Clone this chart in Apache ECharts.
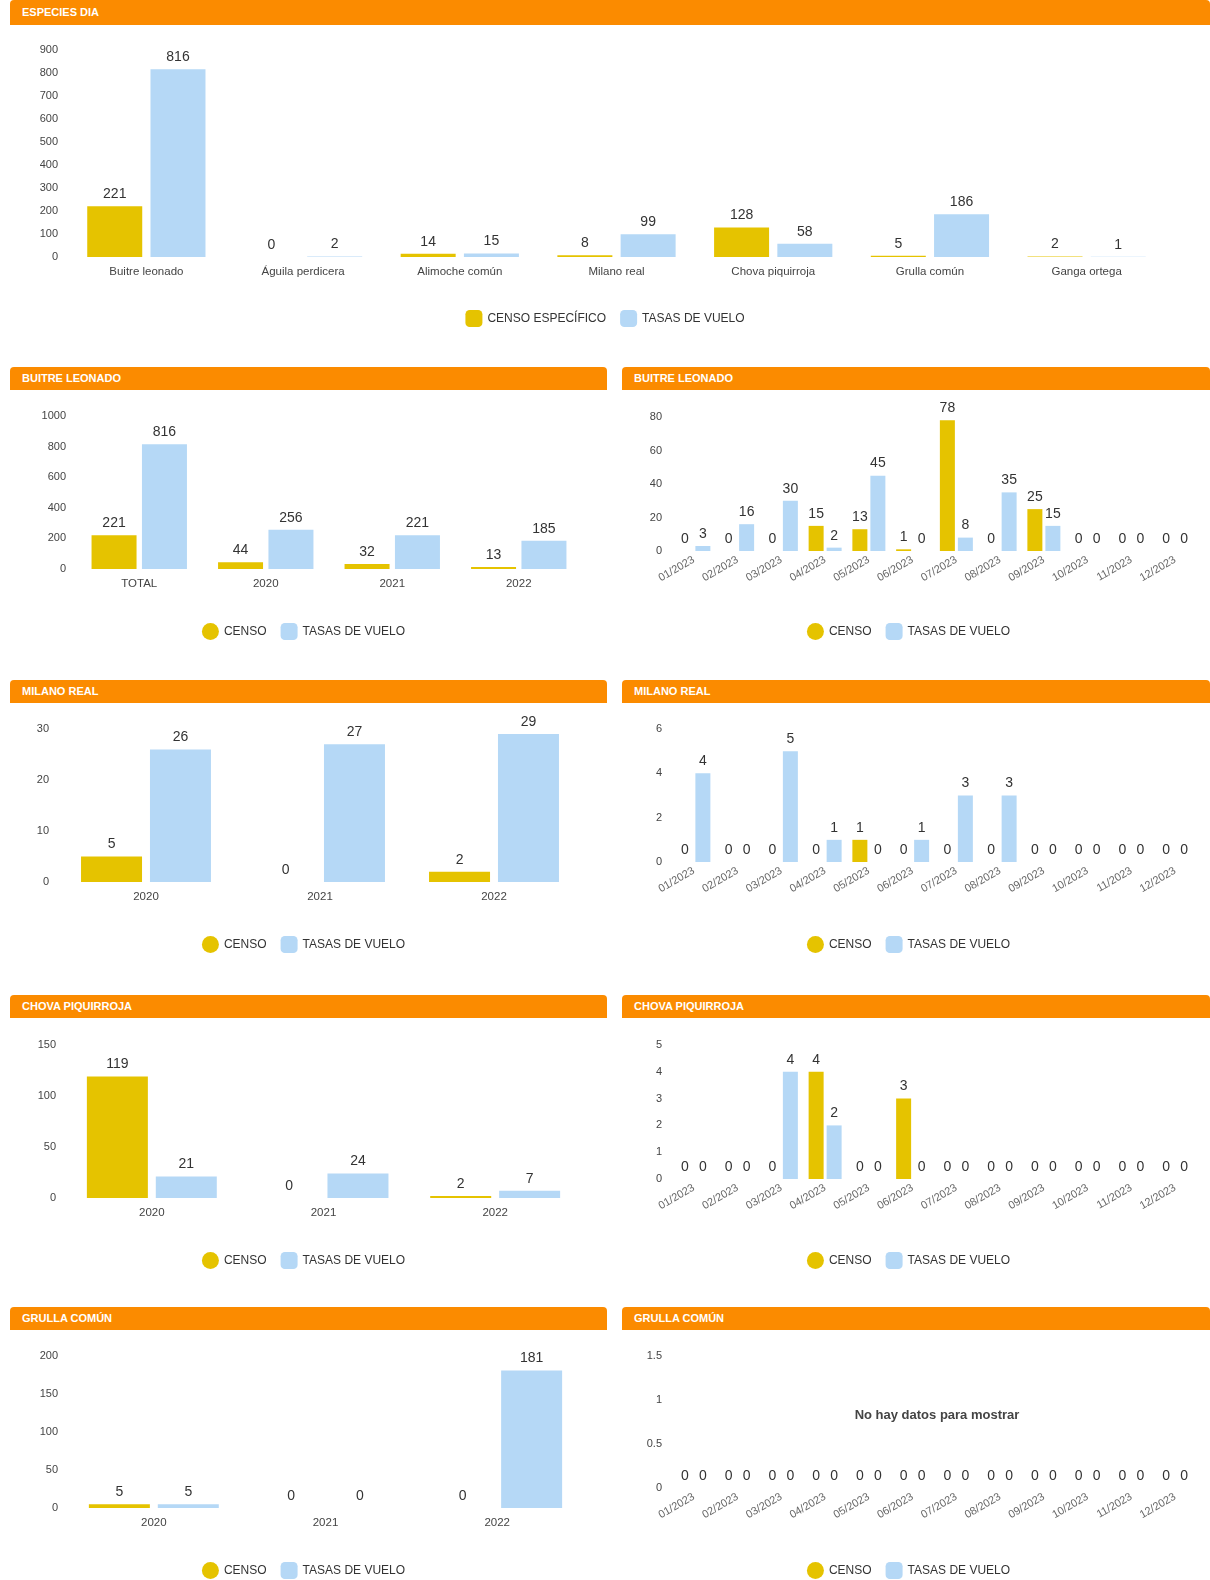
<!DOCTYPE html>
<html>
<head>
<meta charset="utf-8">
<title>Especies</title>
<script src="https://cdn.jsdelivr.net/npm/echarts/dist/echarts.min.js"></script>
<style>
  html, body { margin: 0; padding: 0; background: #fff; }
  body { width: 1210px; height: 1580px; position: relative; overflow: hidden;
         font-family: 'Liberation Sans', Arial, sans-serif; }
  .hdr { position: absolute; height: 23px; background: #fb8b00; color: #fff;
         font-weight: bold; font-size: 11px; line-height: 23px; padding-left: 12px;
         box-sizing: border-box; border-radius: 4px 4px 0 0; z-index: 2; }
  .chart { position: absolute; }
</style>
</head>
<body>

<div class="hdr" style="left:10px;top:0;width:1200px;height:25px;line-height:25px;">ESPECIES DIA</div>
<div class="chart" id="c0" style="left:0;top:0;width:1210px;height:345px;"></div>

<div class="hdr" style="left:10px;top:367px;width:597px;">BUITRE LEONADO</div>
<div class="hdr" style="left:622px;top:367px;width:588px;">BUITRE LEONADO</div>
<div class="chart" id="c1" style="left:0;top:390px;width:607px;height:265px;"></div>
<div class="chart" id="c2" style="left:607px;top:390px;width:603px;height:265px;"></div>

<div class="hdr" style="left:10px;top:680px;width:597px;">MILANO REAL</div>
<div class="hdr" style="left:622px;top:680px;width:588px;">MILANO REAL</div>
<div class="chart" id="c3" style="left:0;top:702px;width:607px;height:265px;"></div>
<div class="chart" id="c4" style="left:607px;top:702px;width:603px;height:265px;"></div>

<div class="hdr" style="left:10px;top:995px;width:597px;">CHOVA PIQUIRROJA</div>
<div class="hdr" style="left:622px;top:995px;width:588px;">CHOVA PIQUIRROJA</div>
<div class="chart" id="c5" style="left:0;top:1018px;width:607px;height:265px;"></div>
<div class="chart" id="c6" style="left:607px;top:1018px;width:603px;height:265px;"></div>

<div class="hdr" style="left:10px;top:1307px;width:597px;">GRULLA COMÚN</div>
<div class="hdr" style="left:622px;top:1307px;width:588px;">GRULLA COMÚN</div>
<div class="chart" id="c7" style="left:0;top:1330px;width:607px;height:250px;"></div>
<div class="chart" id="c8" style="left:607px;top:1330px;width:603px;height:250px;"></div>

<script>
// ---- data ----
const speciesNames = ['Buitre leonado', 'Águila perdicera', 'Alimoche común', 'Milano real', 'Chova piquirroja', 'Grulla común', 'Ganga ortega'];
const speciesCenso = [221, 0, 14, 8, 128, 5, 2];
const speciesTasas = [816, 2, 15, 99, 58, 186, 1];

const months = ['01/2023', '02/2023', '03/2023', '04/2023', '05/2023', '06/2023',
                '07/2023', '08/2023', '09/2023', '10/2023', '11/2023', '12/2023'];
const yearsWithTotal = ['TOTAL', '2020', '2021', '2022'];
const years = ['2020', '2021', '2022'];

const buitreYearCenso = [221, 44, 32, 13];
const buitreYearTasas = [816, 256, 221, 185];
const buitreMonthCenso = [0, 0, 0, 15, 13, 1, 78, 0, 25, 0, 0, 0];
const buitreMonthTasas = [3, 16, 30, 2, 45, 0, 8, 35, 15, 0, 0, 0];

const milanoYearCenso = [5, 0, 2];
const milanoYearTasas = [26, 27, 29];
const milanoMonthCenso = [0, 0, 0, 0, 1, 0, 0, 0, 0, 0, 0, 0];
const milanoMonthTasas = [4, 0, 5, 1, 0, 1, 3, 3, 0, 0, 0, 0];

const chovaYearCenso = [119, 0, 2];
const chovaYearTasas = [21, 24, 7];
const chovaMonthCenso = [0, 0, 0, 4, 0, 3, 0, 0, 0, 0, 0, 0];
const chovaMonthTasas = [0, 0, 4, 2, 0, 0, 0, 0, 0, 0, 0, 0];

const grullaYearCenso = [5, 0, 0];
const grullaYearTasas = [5, 0, 181];
const grullaMonthCenso = [0, 0, 0, 0, 0, 0, 0, 0, 0, 0, 0, 0];
const grullaMonthTasas = [0, 0, 0, 0, 0, 0, 0, 0, 0, 0, 0, 0];

// ---- styling ----
const FONT = "'Liberation Sans', Arial, sans-serif";
const YELLOW = '#e5c300';
const BLUE = '#b5d8f6';

function makeChart(id, o) {
  const chart = echarts.init(document.getElementById(id), null, { renderer: 'canvas' });
  const valueLabel = { show: true, position: 'top', distance: 5, color: '#333', fontSize: 14, fontFamily: FONT };
  const rotated = !!o.rotate;
  chart.setOption({
    animation: false,
    textStyle: { fontFamily: FONT },
    grid: Object.assign({ containLabel: false, outerBoundsMode: 'none' }, o.grid),
    legend: {
      data: [
        { name: o.names[0], icon: o.firstIcon || 'circle' },
        { name: o.names[1], icon: 'roundRect' }
      ],
      top: o.legendTop, left: 'center',
      itemWidth: 17, itemHeight: 17, itemGap: 14,
      textStyle: { fontSize: 12, color: '#333', fontFamily: FONT }
    },
    xAxis: {
      type: 'category', data: o.categories,
      axisLine: { show: false }, axisTick: { show: false },
      axisLabel: {
        interval: 0, rotate: o.rotate || 0, margin: rotated ? 8 : 9,
        fontSize: rotated ? 11 : 11.5, color: rotated ? '#666' : '#444', fontFamily: FONT
      }
    },
    yAxis: {
      type: 'value', min: 0, max: o.max, interval: o.step,
      axisLine: { show: false }, axisTick: { show: false }, splitLine: { show: false },
      axisLabel: { margin: 10, fontSize: 11, color: '#444', fontFamily: FONT,
                   formatter: function (v) { return String(v); } }
    },
    series: [
      { name: o.names[0], type: 'bar', data: o.a, itemStyle: { color: YELLOW },
        barWidth: o.barWidth, barGap: o.barGap, label: valueLabel },
      { name: o.names[1], type: 'bar', data: o.b, itemStyle: { color: BLUE },
        barWidth: o.barWidth, barGap: o.barGap, label: valueLabel }
    ],
    graphic: o.graphic || []
  });
}

const yearNames = ['CENSO', 'TASAS DE VUELO'];

makeChart('c0', {
  categories: speciesNames, a: speciesCenso, b: speciesTasas,
  names: ['CENSO ESPECÍFICO', 'TASAS DE VUELO'], firstIcon: 'roundRect',
  max: 900, step: 100,
  grid: { left: 68, top: 50, width: 1097, height: 207 },
  legendTop: 305, barWidth: 55, barGap: '15%'
});

makeChart('c1', {
  categories: yearsWithTotal, a: buitreYearCenso, b: buitreYearTasas, names: yearNames,
  max: 1000, step: 200,
  grid: { left: 76, top: 26, width: 506, height: 153 },
  legendTop: 228, barWidth: 45, barGap: '12%'
});

makeChart('c2', {
  categories: months, a: buitreMonthCenso, b: buitreMonthTasas, names: yearNames,
  max: 80, step: 20, rotate: 30,
  grid: { left: 65, top: 27, width: 525, height: 134 },
  legendTop: 228, barWidth: 15, barGap: '20%'
});

makeChart('c3', {
  categories: years, a: milanoYearCenso, b: milanoYearTasas, names: yearNames,
  max: 30, step: 10,
  grid: { left: 59, top: 27, width: 522, height: 153 },
  legendTop: 229, barWidth: 61, barGap: '13%'
});

makeChart('c4', {
  categories: months, a: milanoMonthCenso, b: milanoMonthTasas, names: yearNames,
  max: 6, step: 2, rotate: 30,
  grid: { left: 65, top: 27, width: 525, height: 133 },
  legendTop: 229, barWidth: 15, barGap: '20%'
});

makeChart('c5', {
  categories: years, a: chovaYearCenso, b: chovaYearTasas, names: yearNames,
  max: 150, step: 50,
  grid: { left: 66, top: 27, width: 515, height: 153 },
  legendTop: 229, barWidth: 61, barGap: '13%'
});

makeChart('c6', {
  categories: months, a: chovaMonthCenso, b: chovaMonthTasas, names: yearNames,
  max: 5, step: 1, rotate: 30,
  grid: { left: 65, top: 27, width: 525, height: 134 },
  legendTop: 229, barWidth: 15, barGap: '20%'
});

makeChart('c7', {
  categories: years, a: grullaYearCenso, b: grullaYearTasas, names: yearNames,
  max: 200, step: 50,
  grid: { left: 68, top: 26, width: 515, height: 152 },
  legendTop: 227, barWidth: 61, barGap: '13%'
});

makeChart('c8', {
  categories: months, a: grullaMonthCenso, b: grullaMonthTasas, names: yearNames,
  max: 1.5, step: 0.5, rotate: 30,
  grid: { left: 65, top: 26, width: 525, height: 132 },
  legendTop: 227, barWidth: 15, barGap: '20%',
  graphic: [{
    type: 'text', x: 330, y: 85,
    style: { text: 'No hay datos para mostrar', fontSize: 13, fontWeight: 'bold',
             fill: '#444', fontFamily: FONT, align: 'center', verticalAlign: 'middle' }
  }]
});
</script>
</body>
</html>
